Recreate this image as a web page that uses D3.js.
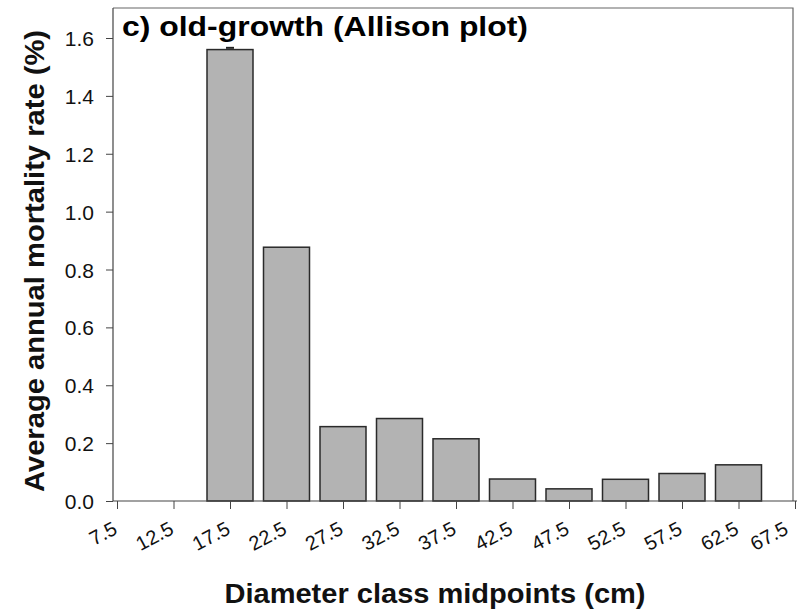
<!DOCTYPE html>
<html><head><meta charset="utf-8">
<script src="https://cdn.jsdelivr.net/npm/d3@7"></script>
<style>body{margin:0;background:#fff}svg{display:block;font-family:"Liberation Sans",Arial,sans-serif}</style>
</head><body>
<svg id="c" width="797" height="610"></svg>
<script>
const tickLabels = ["7.5","12.5","17.5","22.5","27.5","32.5","37.5","42.5","47.5","52.5","57.5","62.5","67.5"];
const categories = [17.5,22.5,27.5,32.5,37.5,42.5,47.5,52.5,57.5,62.5];
const mortality = [1.56,0.877,0.257,0.285,0.215,0.076,0.042,0.075,0.095,0.125];
const errors = [0.006,0,0,0,0,0,0,0,0,0];
const yTicks = [0,0.2,0.4,0.6,0.8,1.0,1.2,1.4,1.6];

(function(){
const svg = d3.select("#c");
const mLeft=113, mRight=793, mTop=8, mBottom=501;
const x = d3.scaleLinear().domain([7.5,67.5]).range([117,795]);
const y = d3.scaleLinear().domain([0,1.6]).range([mBottom,38]);
const bw = 46;

// frame
svg.append("path").attr("d",`M${mLeft},${mTop}H${mRight}V${mBottom}`).attr("fill","none").attr("stroke","#666").attr("stroke-width",1.2);

// bars
svg.append("g").selectAll("rect").data(categories).join("rect")
  .attr("x",(d)=>x(d)-bw/2).attr("width",bw)
  .attr("y",(d,i)=>y(mortality[i])).attr("height",(d,i)=>mBottom-y(mortality[i]))
  .attr("fill","#b3b3b3").attr("stroke","#2a2a2a").attr("stroke-width",1.5);

// error caps
const withErr = categories.map((d,i)=>({c:d,v:mortality[i],e:errors[i]})).filter(o=>o.e>0);
svg.append("g").selectAll("line").data(withErr).join("line")
  .attr("x1",o=>x(o.c)-4).attr("x2",o=>x(o.c)+4)
  .attr("y1",o=>y(o.v+o.e)).attr("y2",o=>y(o.v+o.e))
  .attr("stroke","#222").attr("stroke-width",2);

// y axis
const ya = svg.append("g").attr("transform",`translate(${mLeft},0)`)
  .call(d3.axisLeft(y).tickValues(yTicks).tickFormat(d3.format(".1f")).tickSize(7).tickSizeOuter(0));
ya.select(".domain").attr("stroke","#444").attr("stroke-width",1.2).attr("d",`M0,${mTop}V${mBottom}`);
ya.selectAll(".tick line").attr("stroke","#444");
ya.selectAll(".tick text").attr("font-size",21).attr("fill","#111").attr("x",-19).attr("dy","0.36em")
  .attr("font-family","Liberation Sans, Arial, sans-serif");

// x axis
const tickVals = tickLabels.map(Number);
const xa = svg.append("g").attr("transform",`translate(0,${mBottom})`)
  .call(d3.axisBottom(x).tickValues(tickVals).tickFormat((d,i)=>tickLabels[i]).tickSize(8).tickSizeOuter(0));
xa.select(".domain").attr("stroke","#444").attr("stroke-width",1.2).attr("d",`M${mLeft},0H797`);
xa.selectAll(".tick line").attr("stroke","#444");
xa.selectAll(".tick text").attr("font-size",20).attr("fill","#111").attr("font-family","Liberation Sans, Arial, sans-serif")
  .attr("text-anchor","end").attr("dy",0).attr("y",0)
  .attr("transform",(d,i)=>`translate(${i===tickLabels.length-1?-6:1},32) rotate(-28)`);

// titles
svg.append("text").attr("x",122).attr("y",36).attr("font-size",28).attr("font-weight","bold").attr("fill","#000")
  .attr("textLength",406).attr("lengthAdjust","spacingAndGlyphs")
  .text("c) old-growth (Allison plot)");
svg.append("text").attr("transform","translate(44,261) rotate(-90)").attr("text-anchor","middle")
  .attr("font-size",27).attr("font-weight","bold").attr("fill","#111")
  .attr("textLength",462).attr("lengthAdjust","spacingAndGlyphs")
  .text("Average annual mortality rate (%)");
svg.append("text").attr("x",435).attr("y",603).attr("text-anchor","middle")
  .attr("font-size",28).attr("font-weight","bold").attr("fill","#111")
  .attr("textLength",421).attr("lengthAdjust","spacingAndGlyphs")
  .text("Diameter class midpoints (cm)");
})();
</script>
</body></html>
